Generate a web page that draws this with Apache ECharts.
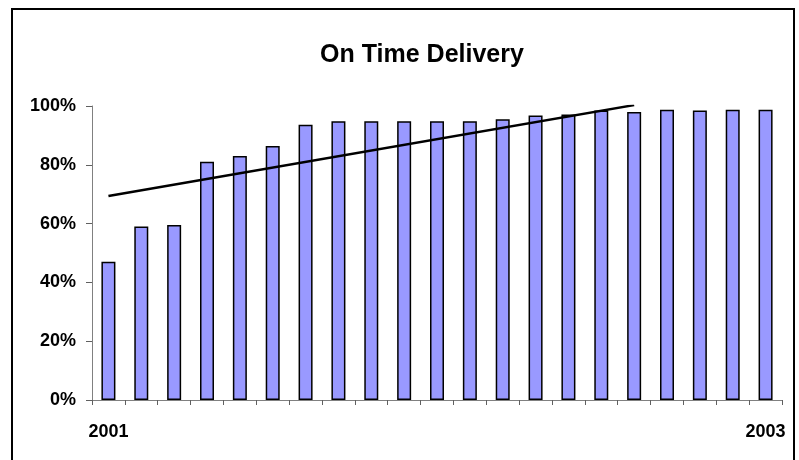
<!DOCTYPE html>
<html>
<head>
<meta charset="utf-8">
<script src="https://cdn.jsdelivr.net/npm/echarts@6/dist/echarts.min.js"></script>
<style>
html,body{margin:0;padding:0;background:#fff;}
#c{width:799px;height:460px;}
</style>
</head>
<body>
<div id="c"></div>
<script>
const categories = ['2001','','','','','','','','','','','','','','','','','','','','2003'];
const onTime = [47, 59, 59.5, 81, 83, 86.4, 93.6, 94.8, 94.8, 94.8, 94.8, 94.8, 95.5, 96.8, 97.1, 98.5, 98, 98.7, 98.5, 98.7, 98.7];
const trend = [[0, 69.4], [16, 100.3]];
const yTicks = [0, 20, 40, 60, 80, 100];

const chart = echarts.init(document.getElementById('c'), null, {renderer: 'canvas'});
chart.setOption({
  animation: false,
  backgroundColor: '#fff',
  title: {
    text: 'On Time Delivery',
    left: 417, top: 38, textAlign: 'center',
    textStyle: {fontFamily: 'Liberation Sans', fontWeight: 'bold', fontSize: 25, color: '#000'}
  },
  graphic: [{
    type: 'rect', silent: true,
    shape: {x: 12, y: 9, width: 782, height: 470},
    style: {fill: 'none', stroke: '#000', lineWidth: 2}
  }],
  grid: {left: 92, right: 17, top: 106, bottom: 60},
  xAxis: {
    type: 'category',
    data: categories,
    axisLine: {lineStyle: {color: '#808080', width: 1}},
    axisTick: {show: true, interval: 0, length: 5, lineStyle: {color: '#606060'}},
    axisLabel: {interval: 0, margin: 23, color: '#000', fontFamily: 'Liberation Sans', fontWeight: 'bold', fontSize: 18}
  },
  yAxis: {
    type: 'value',
    min: yTicks[0], max: yTicks[yTicks.length - 1], interval: 20,
    axisLine: {show: true, lineStyle: {color: '#808080', width: 1}},
    axisTick: {show: true, length: 6, lineStyle: {color: '#606060'}},
    splitLine: {show: false},
    axisLabel: {margin: 16, color: '#000', fontFamily: 'Liberation Sans', fontWeight: 'bold', fontSize: 18, formatter: '{value}%'}
  },
  series: [{
    type: 'bar',
    data: onTime,
    barWidth: 14,
    itemStyle: {color: '#9999FF', borderColor: '#000', borderWidth: 1.5}
  }, {
    type: 'line',
    data: trend,
    symbol: 'none',
    clip: true,
    lineStyle: {color: '#000', width: 2.5}
  }]
});
</script>
</body>
</html>
